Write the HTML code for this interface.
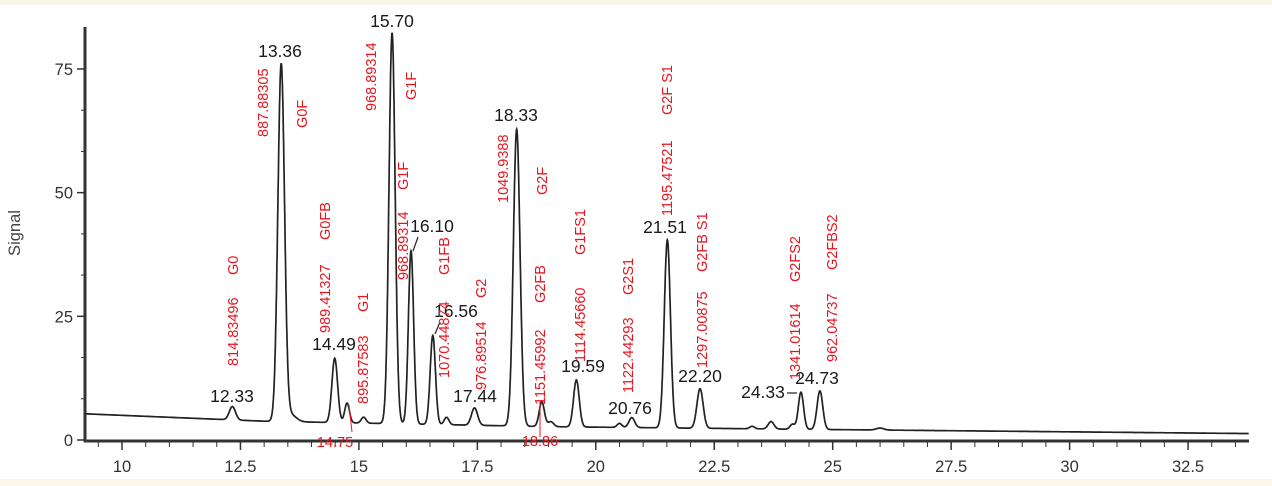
<!DOCTYPE html>
<html><head><meta charset="utf-8"><style>
html,body{margin:0;padding:0;background:#fff;}
body{width:1272px;height:486px;overflow:hidden;position:relative;}
.band{position:absolute;left:0;width:1272px;background:#faf7e8;}
svg{position:absolute;left:0;top:0;}
text{font-family:"Liberation Sans",sans-serif;}
</style></head><body>
<div class="band" style="top:0;height:5px"></div>
<div class="band" style="top:479px;height:7px"></div>
<svg id="s" width="1272" height="486" xmlns="http://www.w3.org/2000/svg">
<g id="ax" stroke="#333" stroke-width="1.5"></g>
<path id="tr" fill="none" stroke="#222" stroke-width="1.7"/>
<g id="lab"></g>
<text x="20" y="233" transform="rotate(-90 20 233)" text-anchor="middle" font-size="16.5" fill="#444">Signal</text>
</svg>
<script>
var X=function(t){return 122+(t-10)*47.38;};
var Y=function(v){return 440-v*4.947;};
var ns="http://www.w3.org/2000/svg";
function el(p,n,a,txt){var e=document.createElementNS(ns,n);for(var k in a)e.setAttribute(k,a[k]);if(txt!=null)e.textContent=txt;p.appendChild(e);return e;}
var ax=document.getElementById('ax'),lab=document.getElementById('lab');
el(ax,'line',{x1:85,y1:27,x2:85,y2:442,'stroke-width':3});
el(ax,'line',{x1:84,y1:441,x2:1249,y2:441,'stroke-width':3});
[0,25,50,75].forEach(function(v){el(ax,'line',{x1:77,y1:Y(v),x2:85,y2:Y(v)});
 el(lab,'text',{x:73,y:Y(v)+6,'text-anchor':'end','font-size':16.5,fill:'#333'},v);});
for(var v=0;v<=83;v+=25/3){el(ax,'line',{x1:81,y1:Y(v),x2:85,y2:Y(v),'stroke-width':1});}
for(var t=9.5;t<=33.6;t+=0.5){var maj=Math.abs((t/2.5)-Math.round(t/2.5))<1e-6;
 el(ax,'line',{x1:X(t),y1:441,x2:X(t),y2:maj?450:447,'stroke-width':maj?1.5:1});
 if(maj)el(lab,'text',{x:X(t),y:472,'text-anchor':'middle','font-size':16.5,fill:'#333'},(t%1==0)?t:t.toFixed(1));}
var P=[[12.33,2.7,.065],[13.36,72,.07],[13.55,1.5,.12],[14.49,13,.06],[14.75,4,.05],[15.1,1.2,.05],[15.70,79,.065],[16.10,35,.055],[16.56,18,.055],[16.85,1.5,.05],[17.44,3.5,.065],[18.33,60,.07],[18.86,5,.055],[19.05,1,.06],[19.59,9.5,.06],[20.5,.8,.05],[20.76,2,.06],[21.51,38,.065],[22.20,8,.065],[23.3,.5,.05],[23.7,1.5,.06],[24.15,1,.05],[24.33,7.5,.055],[24.73,7.8,.06],[26.0,.4,.08]];
function base(t){var k=[[9.2,5.3],[13,3.8],[19,2.7],[24,2.2],[33.8,1.3]];for(var i=0;i<k.length-1;i++){if(t<=k[i+1][0]){var f=(t-k[i][0])/(k[i+1][0]-k[i][0]);return k[i][1]+f*(k[i+1][1]-k[i][1]);}}return 1.3;}
var d='';for(var t=9.22;t<=33.78;t+=0.005){var v=base(t);P.forEach(function(p){var z=(t-p[0])/p[2];v+=p[1]*Math.exp(-0.5*z*z);});d+=(d?'L':'M')+X(t).toFixed(1)+' '+Y(v).toFixed(1);}
document.getElementById('tr').setAttribute('d',d);
var B=[["12.33",232,402],["13.36",280,57],["14.49",334,350],["15.70",392,27],["16.10",432,232],["16.56",456,317],["17.44",475,402],["18.33",516,121],["19.59",583,372],["20.76",630,414],["21.51",665,233],["22.20",700,382],["24.33",763,398],["24.73",817,384]];
B.forEach(function(b){el(lab,'text',{x:b[1],y:b[2],'text-anchor':'middle','font-size':17.5,fill:'#1a1a1a'},b[0]);});
el(lab,'line',{x1:418,y1:237,x2:413,y2:251,stroke:'#222','stroke-width':1.2});
el(lab,'line',{x1:440,y1:322,x2:435,y2:334,stroke:'#222','stroke-width':1.2});
el(lab,'line',{x1:787,y1:393,x2:797,y2:393,stroke:'#222','stroke-width':1.2});
var R=[["814.83496",233,366],["G0",233,275],["887.88305",263,137],["G0F",302,128],["989.41327",325,333],["G0FB",325,240],["895.87583",363,404],["G1",363,312],["968.89314",371,111],["G1F",411,100],["G1F",403,190],["968.89314",403,280],["G1FB",444,275],["1070.44874",444,378],["G2",481,298],["976.89514",481,390],["1049.9388",503,203],["G2F",542,195],["G2FB",540,303],["1151.45992",540,405],["G1FS1",580,255],["1114.45660",580,362],["G2S1",628,295],["1122.44293",628,393],["G2F S1",667,115],["1195.47521",667,216],["G2FB S1",702,272],["1297.00875",702,368],["G2FS2",795,282],["1341.01614",795,380],["G2FBS2",832,270],["962.04737",832,362]];
R.forEach(function(r){var x=r[1]+5,y=r[2];el(lab,'text',{x:x,y:y,transform:'rotate(-90 '+x+' '+y+')','font-size':14.5,fill:'#e8141e'},r[0]);});
el(lab,'line',{x1:349,y1:405,x2:352,y2:432,stroke:'#e8141e','stroke-width':1});
el(lab,'line',{x1:540,y1:401,x2:540,y2:437,stroke:'#e8141e','stroke-width':1});
el(lab,'text',{x:335,y:447,'text-anchor':'middle','font-size':14.5,fill:'#e8141e'},"14.75");
el(lab,'text',{x:540,y:446,'text-anchor':'middle','font-size':14.5,fill:'#e8141e'},"18.86");
</script>
</body></html>
